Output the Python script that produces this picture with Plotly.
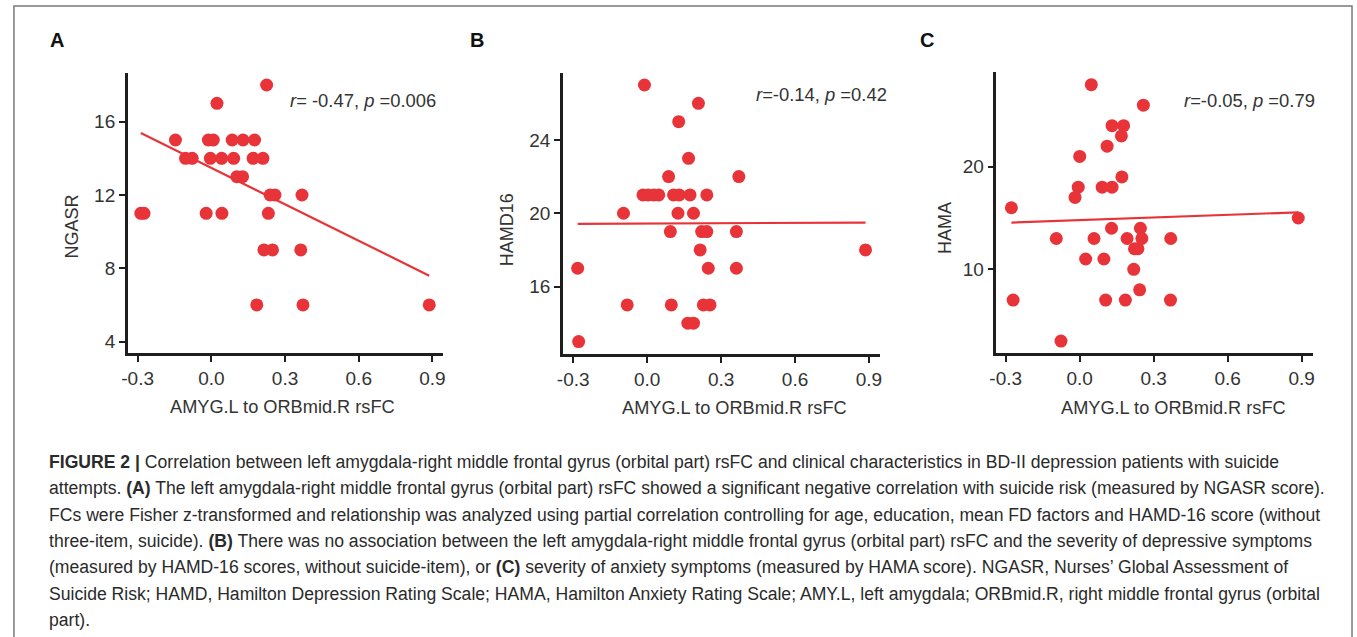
import plotly.graph_objects as go
import numpy as np

# ---------------- data ----------------
x_a = [-0.287, -0.274, -0.146, -0.105, -0.078, -0.012, 0.008, 0.085, 0.129, 0.176,
       -0.004, 0.042, 0.091, 0.170, 0.210, 0.104, 0.127, 0.023, 0.225, 0.239,
       0.259, 0.369, -0.021, 0.043, 0.232, 0.214, 0.249, 0.364, 0.185, 0.373, 0.887]
y_a = [11, 11, 15, 14, 14, 15, 15, 15, 15, 15,
       14, 14, 14, 14, 14, 13, 13, 17, 18, 12,
       12, 12, 11, 11, 11, 9, 9, 9, 6, 6, 6]

x_b = [-0.011, 0.208, 0.128, 0.168, 0.087, 0.372, -0.017, 0.004, 0.027, 0.047,
       0.107, 0.130, 0.174, 0.242, -0.096, 0.125, 0.188, 0.094, 0.221, 0.242,
       0.362, 0.215, 0.886, 0.248, 0.362, -0.282, -0.081, 0.098, 0.228, 0.255,
       0.165, 0.188, -0.278]
y_b = [27, 26, 25, 23, 22, 22, 21, 21, 21, 21,
       21, 21, 21, 21, 20, 20, 20, 19, 19, 19,
       19, 18, 18, 17, 17, 17, 15, 15, 15, 15,
       14, 14, 13]

x_c = [0.047, 0.258, 0.131, 0.178, 0.169, 0.111, 0.000, 0.171, -0.006, 0.091,
       0.131, -0.019, -0.277, 0.886, 0.129, 0.246, -0.095, 0.058, 0.192, 0.252,
       0.369, 0.222, 0.236, 0.024, 0.098, 0.219, 0.243, -0.270, 0.105, 0.185,
       0.368, -0.076]
y_c = [28, 26, 24, 24, 23, 22, 21, 19, 18, 18,
       18, 17, 16, 15, 14, 14, 13, 13, 13, 13,
       13, 12, 12, 11, 11, 10, 8, 7, 7, 7,
       7, 3]

# fitted lines (slope, intercept) as drawn in the figure
fit_a = (-6.63, 13.48)
fit_b = (0.06, 19.44)
fit_c = (0.86, 14.79)

x_ticks = [-0.3, 0.0, 0.3, 0.6, 0.9]
x_tick_labels = ["-0.3", "0.0", "0.3", "0.6", "0.9"]
y_titles = ["NGASR", "HAMD16", "HAMA"]
x_title = "AMYG.L to ORBmid.R rsFC"
panel_letters = ["A", "B", "C"]
stats_text = ["<i>r</i>= -0.47, <i>p</i> =0.006",
              "<i>r</i>=-0.14, <i>p</i> =0.42",
              "<i>r</i>=-0.05, <i>p</i> =0.79"]

caption_lines = [
    "<b>FIGURE 2 |</b> Correlation between left amygdala-right middle frontal gyrus (orbital part) rsFC and clinical characteristics in BD-II depression patients with suicide",
    "attempts. <b>(A)</b> The left amygdala-right middle frontal gyrus (orbital part) rsFC showed a significant negative correlation with suicide risk (measured by NGASR score).",
    "FCs were Fisher z-transformed and relationship was analyzed using partial correlation controlling for age, education, mean FD factors and HAMD-16 score (without",
    "three-item, suicide). <b>(B)</b> There was no association between the left amygdala-right middle frontal gyrus (orbital part) rsFC and the severity of depressive symptoms",
    "(measured by HAMD-16 scores, without suicide-item), or <b>(C)</b> severity of anxiety symptoms (measured by HAMA score). NGASR, Nurses\u2019 Global Assessment of",
    "Suicide Risk; HAMD, Hamilton Depression Rating Scale; HAMA, Hamilton Anxiety Rating Scale; AMY.L, left amygdala; ORBmid.R, right middle frontal gyrus (orbital",
    "part).",
]

# ---------------- layout constants ----------------
W, H = 1357, 637
RED = "rgb(232,52,56)"
AX = "#1e1e1e"
TXT = "#333333"
FONT = "Liberation Sans, Arial, sans-serif"

def px(x):
    return x / W

def py(y):
    return 1 - y / H

panels = [
    dict(x=x_a, y=y_a, fit=fit_a, xdom=(121.7, 439.0), ydom=(353.0, 72.7),
         xr=(-0.340, 0.942), yr=(3.38, 18.67), dtick=4),
    dict(x=x_b, y=y_b, fit=fit_b, xdom=(560.0, 879.3), ydom=(354.0, 72.7),
         xr=(-0.342, 0.944), yr=(12.32, 27.67), dtick=4),
    dict(x=x_c, y=y_c, fit=fit_c, xdom=(996.7, 1316.0), ydom=(353.3, 71.7),
         xr=(-0.338, 0.947), yr=(1.81, 29.26), dtick=10),
]

fig = go.Figure()
layout = dict(
    width=W, height=H, margin=dict(l=0, r=0, t=0, b=0),
    paper_bgcolor="white", plot_bgcolor="white", showlegend=False,
    font=dict(family=FONT, color=TXT),
)

for i, p in enumerate(panels):
    sfx = "" if i == 0 else str(i + 1)
    xa, ya = "x" + sfx, "y" + sfx
    xs = np.array([min(p["x"]), max(p["x"])])
    ys = p["fit"][0] * xs + p["fit"][1]
    fig.add_trace(go.Scatter(x=xs, y=ys, mode="lines",
                             line=dict(color=RED, width=2.2),
                             xaxis=xa, yaxis=ya, hoverinfo="skip"))
    fig.add_trace(go.Scatter(x=p["x"], y=p["y"], mode="markers",
                             marker=dict(color=RED, size=13, line=dict(width=0)),
                             xaxis=xa, yaxis=ya))
    common = dict(showline=True, linewidth=2.5, linecolor=AX, ticks="outside",
                  ticklen=6, tickwidth=2, tickcolor=AX, showgrid=False,
                  zeroline=False, tickfont=dict(size=19, family=FONT, color=TXT))
    layout["xaxis" + sfx] = dict(
        domain=[px(p["xdom"][0]), px(p["xdom"][1])], range=list(p["xr"]),
        tickvals=x_ticks, ticktext=x_tick_labels, anchor=ya, **common)
    layout["yaxis" + sfx] = dict(
        domain=[py(p["ydom"][0]), py(p["ydom"][1])], range=list(p["yr"]),
        dtick=p["dtick"], tick0=0, anchor=xa, **common)

ann = []
for letter, (lx, ly) in zip(panel_letters, [(41, 40), (464, 40), (918, 40)]):
    ann.append(dict(text="<b>%s</b>" % letter, x=px(lx), y=py(ly), xref="paper", yref="paper",
                    xanchor="left", yanchor="middle", showarrow=False,
                    font=dict(size=20, family=FONT, color="#111")))
for cx, cy in [(278, 407), (733, 408), (1175, 408)]:
    ann.append(dict(text=x_title, x=px(cx), y=py(cy), xref="paper", yref="paper",
                    xanchor="center", yanchor="middle", showarrow=False,
                    font=dict(size=18.2, family=FONT, color=TXT)))
for t, (cx, cy) in zip(y_titles, [(65, 227), (504, 230), (945, 228)]):
    ann.append(dict(text=t, x=px(cx), y=py(cy), xref="paper", yref="paper",
                    xanchor="center", yanchor="middle", showarrow=False, textangle=-90,
                    font=dict(size=18, family=FONT, color=TXT)))
for t, (rx, cy) in zip(stats_text, [(434, 100), (889, 95), (1320, 100)]):
    ann.append(dict(text=t, x=px(rx), y=py(cy), xref="paper", yref="paper",
                    xanchor="right", yanchor="middle", showarrow=False,
                    font=dict(size=18.4, family=FONT, color=TXT)))
for k, line in enumerate(caption_lines):
    ann.append(dict(text=line, x=px(40), y=py(462 + k * 26.3), xref="paper", yref="paper",
                    xanchor="left", yanchor="middle", showarrow=False,
                    font=dict(size=17.6, family=FONT, color="#2a2a2a")))
layout["annotations"] = ann

layout["shapes"] = [dict(type="rect", xref="paper", yref="paper",
                         x0=px(7), x1=px(1355), y0=py(660), y1=py(6),
                         line=dict(color="#7a7a7a", width=1.5), fillcolor="rgba(0,0,0,0)")]

fig.update_layout(**layout)
fig.write_html("out.html", config={"displayModeBar": False},
               post_script="document.body.style.margin='0';document.body.style.overflow='hidden';")
